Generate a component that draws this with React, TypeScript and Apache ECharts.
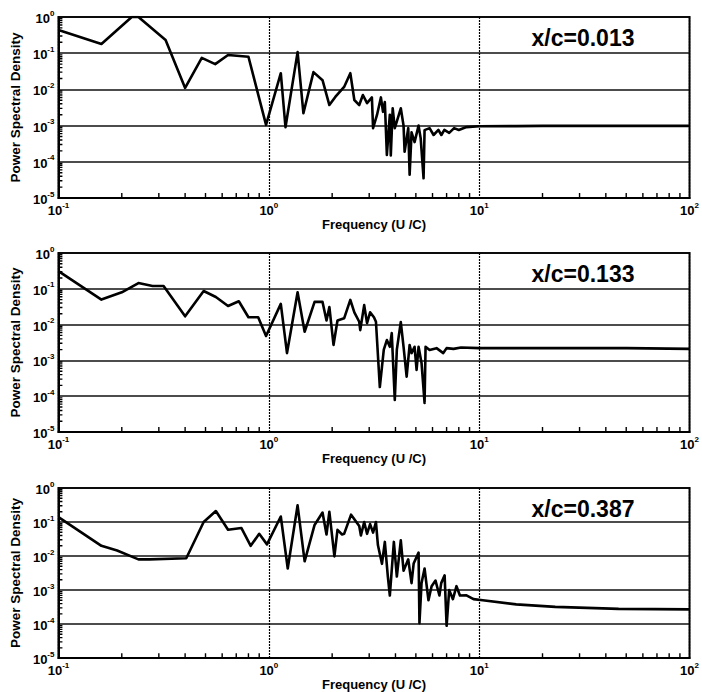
import React, { useEffect, useRef } from "react";
import * as echarts from "echarts";

// Power spectral density vs. frequency at three chordwise stations.
const FREQ_013 = [
  0.1, 0.16, 0.223, 0.24, 0.323, 0.4, 0.48, 0.556, 0.64, 0.8, 0.97, 1.14, 1.2, 1.37, 1.46, 1.63, 1.8,
  1.94, 2.07, 2.28, 2.44, 2.55, 2.69, 2.8, 2.93, 3.09, 3.13, 3.27, 3.41, 3.49, 3.56, 3.64, 3.76, 3.8,
  3.88, 3.97, 4.24, 4.37, 4.42, 4.6, 4.67, 4.77, 4.93, 5.15, 5.27, 5.44, 5.5, 5.81, 6.07, 6.4, 6.61,
  6.83, 7.2, 7.6, 8.0, 8.7, 10, 15, 20, 30, 50, 100,
];
const PSD_013 = [
  0.44, 0.18, 1.0, 1.0, 0.23, 0.011, 0.074, 0.05, 0.089, 0.08, 0.00105, 0.028, 0.0009, 0.107, 0.0022,
  0.03, 0.018, 0.0037, 0.0062, 0.0117, 0.028, 0.0051, 0.0037, 0.007, 0.0042, 0.006, 0.00085, 0.002,
  0.006, 0.0024, 0.0045, 0.000155, 0.002, 0.00015, 0.003, 0.00085, 0.003, 0.001, 0.00019, 0.00085,
  0.000044, 0.00065, 0.00035, 0.001, 0.00045, 0.000035, 0.00075, 0.00085, 0.00055, 0.00076, 0.00055,
  0.00076, 0.00063, 0.00085, 0.00076, 0.00091, 0.00096, 0.00097, 0.00098, 0.00098, 0.00098, 0.00098,
];

const FREQ_133 = [
  0.1, 0.16, 0.2, 0.24, 0.28, 0.316, 0.4, 0.49, 0.56, 0.64, 0.72, 0.8, 0.89, 0.97, 1.14, 1.22, 1.37,
  1.48, 1.65, 1.8, 1.88, 1.94, 2.03, 2.12, 2.28, 2.44, 2.55, 2.69, 2.72, 2.84, 2.93, 3.03, 3.16, 3.23,
  3.37, 3.52, 3.64, 3.76, 3.84, 3.97, 4.06, 4.24, 4.37, 4.52, 4.67, 4.77, 4.93, 5.04, 5.15, 5.32, 5.5,
  5.56, 5.81, 6.27, 6.75, 7.0, 7.55, 8.2, 10, 20, 50, 100,
];
const PSD_133 = [
  0.31, 0.05, 0.08, 0.145, 0.12, 0.12, 0.017, 0.087, 0.059, 0.033, 0.045, 0.016, 0.016, 0.0048, 0.038,
  0.0016, 0.08, 0.0063, 0.043, 0.043, 0.013, 0.031, 0.0027, 0.013, 0.015, 0.049, 0.022, 0.012, 0.007,
  0.035, 0.011, 0.022, 0.016, 0.012, 0.00018, 0.002, 0.0037, 0.0024, 0.0058, 0.000079, 0.002, 0.0118,
  0.0024, 0.00035, 0.0027, 0.0016, 0.0024, 0.00054, 0.0024, 0.00085, 0.000065, 0.0024, 0.00195, 0.0022,
  0.0016, 0.0022, 0.0021, 0.0023, 0.0022, 0.0022, 0.0022, 0.0021,
];

const FREQ_387 = [
  0.1, 0.16, 0.19, 0.24, 0.27, 0.405, 0.49, 0.56, 0.64, 0.74, 0.82, 0.9, 0.98, 1.14, 1.23, 1.37, 1.48,
  1.65, 1.8, 1.88, 1.94, 2.05, 2.12, 2.23, 2.28, 2.46, 2.55, 2.69, 2.74, 2.84, 2.93, 3.03, 3.13, 3.23,
  3.3, 3.45, 3.56, 3.68, 3.76, 3.93, 4.06, 4.24, 4.37, 4.6, 4.77, 4.88, 5.15, 5.2, 5.32, 5.5, 5.74,
  5.94, 6.2, 6.47, 6.6, 6.85, 7.0, 7.2, 7.5, 7.8, 8.1, 8.7, 9.4, 10.4, 15, 23, 46, 100,
];
const PSD_387 = [
  0.14, 0.02, 0.0145, 0.008, 0.008, 0.0086, 0.1, 0.21, 0.059, 0.067, 0.02, 0.045, 0.022, 0.145, 0.0043,
  0.31, 0.007, 0.082, 0.19, 0.043, 0.2, 0.0098, 0.059, 0.043, 0.045, 0.165, 0.12, 0.076, 0.04, 0.1,
  0.045, 0.087, 0.049, 0.1, 0.021, 0.0059, 0.026, 0.0025, 0.00069, 0.026, 0.0025, 0.029, 0.0037, 0.008,
  0.0016, 0.006, 0.0126, 0.000107, 0.0016, 0.0043, 0.0005, 0.0013, 0.0019, 0.00069, 0.0016, 0.0027,
  0.000089, 0.001, 0.00054, 0.0013, 0.00069, 0.0007, 0.00054, 0.0005, 0.00038, 0.00032, 0.00028, 0.00027,
];

const STATION_LABELS = ["x/c=0.013", "x/c=0.133", "x/c=0.387"];
const X_NAME = "Frequency (U /C)";
const Y_NAME = "Power Spectral Density";
const X_RANGE = [0.1, 100];
const Y_RANGE = [1e-5, 1];
const MINOR_MULTIPLES = [2, 3, 4, 5, 6, 7, 8, 9];

const FONT = '"Liberation Sans", Arial, Helvetica, sans-serif';
const CHART_W = 702;
const GRID_RIGHT = 5;

// plot-area placement of the three stacked panels
const PANELS = [
  { left: 55, top: 17, height: 181 },
  { left: 57, top: 253, height: 179 },
  { left: 58, top: 488, height: 179 },
];

function powerLabel(v: number) {
  const e = Math.round(Math.log10(v));
  return `{b|10}{s|${e}}`;
}

const RICH = {
  b: { fontSize: 13, fontWeight: "bold", fontFamily: FONT, color: "#000", lineHeight: 16, verticalAlign: "bottom" },
  s: { fontSize: 8, fontWeight: "bold", fontFamily: FONT, color: "#000", lineHeight: 16, verticalAlign: "top" },
};

function minorValues(lo: number, hi: number) {
  const out: number[] = [];
  for (let d = lo; d < hi * 0.999; d *= 10) {
    MINOR_MULTIPLES.forEach((m) => out.push(d * m));
  }
  return out;
}

// Short inward tick segments along the bottom and left edges, as one broken polyline.
// Tick length is given in pixels and turned into a factor along the log axis.
function minorTickSegments(panel: { left: number; height: number }) {
  const xDecades = Math.log10(X_RANGE[1] / X_RANGE[0]);
  const yDecades = Math.log10(Y_RANGE[1] / Y_RANGE[0]);
  const plotW = CHART_W - GRID_RIGHT - panel.left;
  const yStep = Math.pow(10, 5 / (panel.height / yDecades));
  const xStep = Math.pow(10, 4 / (plotW / xDecades));
  const pts: any[] = [];
  minorValues(X_RANGE[0], X_RANGE[1]).forEach((v) => {
    pts.push([v, Y_RANGE[0]], [v, Y_RANGE[0] * yStep], [v, null]);
  });
  minorValues(Y_RANGE[0], Y_RANGE[1]).forEach((v) => {
    pts.push([X_RANGE[0], v], [X_RANGE[0] * xStep, v], [null, v]);
  });
  return pts;
}

export default function App() {
  const ref = useRef<HTMLDivElement>(null);

  useEffect(() => {
    if (!ref.current) return;
    const chart = echarts.init(ref.current, null, { renderer: "svg" });

    const seriesData = [
      FREQ_013.map((f, i) => [f, PSD_013[i]]),
      FREQ_133.map((f, i) => [f, PSD_133[i]]),
      FREQ_387.map((f, i) => [f, PSD_387[i]]),
    ];

    const grid = PANELS.map((p) => ({
      left: p.left,
      right: GRID_RIGHT,
      top: p.top,
      height: p.height,
      show: true,
      borderColor: "#000",
      borderWidth: 2,
    }));

    const xAxis = PANELS.map((_, i) => ({
      type: "log",
      gridIndex: i,
      min: X_RANGE[0],
      max: X_RANGE[1],
      name: X_NAME,
      nameLocation: "middle",
      nameGap: 12,
      nameTextStyle: { fontFamily: FONT, fontWeight: "bold", fontSize: 13, color: "#000", verticalAlign: "top" },
      axisLine: { show: true, lineStyle: { color: "#000", width: 2 } },
      axisTick: { show: false },
      axisLabel: { formatter: powerLabel, rich: RICH, margin: 3 },
      splitLine: { show: true, lineStyle: { color: "#000", width: 1.2, type: [2, 1] } },
    }));

    const yAxis = PANELS.map((_, i) => ({
      type: "log",
      gridIndex: i,
      min: Y_RANGE[0],
      max: Y_RANGE[1],
      name: Y_NAME,
      nameLocation: "middle",
      nameRotate: 90,
      nameGap: 33,
      nameTextStyle: { fontFamily: FONT, fontWeight: "bold", fontSize: 13.5, color: "#000" },
      axisLine: { show: true, lineStyle: { color: "#000", width: 2 } },
      axisTick: { show: false },
      axisLabel: { formatter: powerLabel, rich: RICH, margin: 4 },
      splitLine: { show: true, lineStyle: { color: "#111", width: 1.6 } },
    }));

    const series: any[] = [];
    PANELS.forEach((p, i) => {
      series.push({
        type: "line",
        xAxisIndex: i,
        yAxisIndex: i,
        data: seriesData[i],
        showSymbol: false,
        symbol: "none",
        lineStyle: { color: "#000", width: 2.6, join: "round" },
        clip: true,
        z: 5,
      });
      series.push({
        type: "line",
        xAxisIndex: i,
        yAxisIndex: i,
        data: minorTickSegments(p),
        showSymbol: false,
        symbol: "none",
        connectNulls: false,
        silent: true,
        lineStyle: { color: "#000", width: 1.4 },
        clip: false,
        z: 4,
      });
    });

    const graphic = PANELS.map((p, i) => ({
      type: "text",
      x: 583,
      y: p.top + 21,
      z: 10,
      style: {
        text: STATION_LABELS[i],
        font: `bold 23px ${FONT}`,
        fill: "#000",
        align: "center",
        verticalAlign: "middle",
      },
    }));

    chart.setOption({
      animation: false,
      grid,
      xAxis,
      yAxis,
      series,
      graphic,
    } as any);

    return () => chart.dispose();
  }, []);

  return (
    <div
      ref={ref}
      style={{ position: "fixed", left: 0, top: 0, width: CHART_W, height: 692, background: "#fff" }}
    />
  );
}
